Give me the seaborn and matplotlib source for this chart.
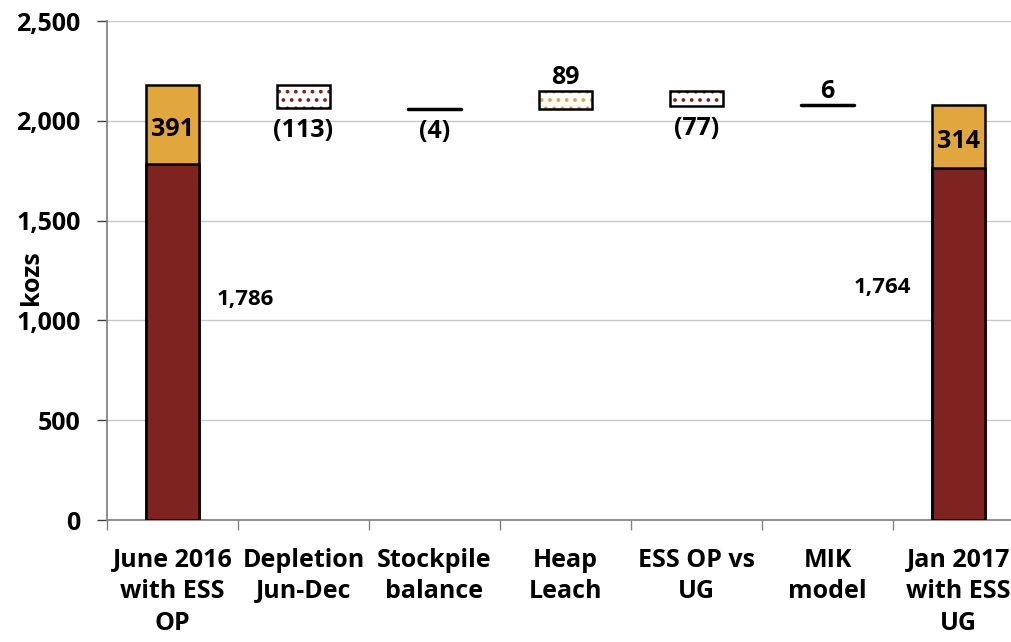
import numpy as np
import matplotlib
matplotlib.use("Agg")
import matplotlib.pyplot as plt
import seaborn as sns

# ========= DATA ==========
categories = ["June 2016\nwith ESS\nOP", "Depletion\nJun-Dec", "Stockpile\nbalance",
              "Heap\nLeach", "ESS OP vs\nUG", "MIK\nmodel", "Jan 2017\nwith ESS\nUG"]
base_values = [1786, np.nan, np.nan, np.nan, np.nan, np.nan, 1764]   # dark red part of end bars
top_values = [391, np.nan, np.nan, np.nan, np.nan, np.nan, 314]      # orange part of end bars
deltas = [None, -113, -4, 89, -77, 6, None]                          # floating steps
y_ticks = [0, 500, 1000, 1500, 2000, 2500]

DARK_RED = "#7F2320"
ORANGE = "#E1A63E"
FS = 18

sns.set_theme(style="white")
plt.rcParams["font.family"] = ["Open Sans", "DejaVu Sans"]
plt.rcParams["font.weight"] = "bold"
plt.rcParams["text.color"] = "black"
plt.rcParams["xtick.color"] = "black"
plt.rcParams["ytick.color"] = "black"
plt.rcParams["hatch.linewidth"] = 1.5

fig = plt.figure(figsize=(10.11, 6.42), dpi=100)
ax = fig.add_axes([107 / 1011, 1 - 520 / 642, 917 / 1011, 499 / 642])

totals = [b + t for b, t in zip(base_values, top_values)]
sns.barplot(x=list(range(7)), y=totals, color=ORANGE, saturation=1, width=0.4,
            edgecolor="black", linewidth=1.8, ax=ax, native_scale=True, zorder=3)
sns.barplot(x=list(range(7)), y=base_values, color=DARK_RED, saturation=1, width=0.4,
            edgecolor="black", linewidth=1.8, ax=ax, native_scale=True, zorder=4)

# floating steps
running = totals[0]
for i, d in enumerate(deltas):
    if d is None:
        continue
    start, end = running, running + d
    lo, hi = min(start, end), max(start, end)
    dot_col = DARK_RED if d < 0 else ORANGE
    if abs(d) > 10:
        ax.bar(i, hi - lo, bottom=lo, width=0.4, color="white", hatch="..",
               edgecolor=dot_col, linewidth=0, zorder=3)
        ax.bar(i, hi - lo, bottom=lo, width=0.4, fill=False,
               edgecolor="black", linewidth=1.8, zorder=4)
    else:
        ax.plot([i - 0.2, i + 0.2], [end, end], color="black", lw=2.5,
                solid_capstyle="round", zorder=4)
    txt = f"({abs(d)})" if d < 0 else f"{d}"
    if d < 0:
        ax.text(i, lo - 50, txt, ha="center", va="top", fontsize=FS, fontweight="bold")
    else:
        ax.text(i, hi + 5, txt, ha="center", va="bottom", fontsize=FS, fontweight="bold")
    running = end

# end bar labels
ax.text(0, base_values[0] + top_values[0] / 2 - 25, f"{top_values[0]}", ha="center",
        va="center", fontsize=FS, fontweight="bold", zorder=5)
ax.text(6, base_values[6] + top_values[6] / 2 - 25, f"{top_values[6]}", ha="center",
        va="center", fontsize=FS, fontweight="bold", zorder=5)
ax.text(0.34, 1105, f"{base_values[0]:,}", ha="left", va="center", fontsize=16, fontweight="bold")
ax.text(5.64, 1165, f"{base_values[6]:,}", ha="right", va="center", fontsize=16, fontweight="bold")

ax.set_ylim(0, 2500)
ax.set_xlim(-0.5, 6.5)
ax.set_yticks(y_ticks)
ax.set_yticklabels([f"{v:,}" for v in y_ticks], fontsize=FS, fontweight="bold")
ax.yaxis.grid(True, color="#C8C8C8", lw=1)
ax.set_axisbelow(True)

ax.set_xticks(np.arange(-0.5, 7, 1))
ax.set_xticklabels([])
ax.set_xticks(range(7), minor=True)
ax.set_xticklabels(categories, minor=True, fontsize=FS, fontweight="bold", linespacing=1.35)
ax.tick_params(axis="x", which="major", direction="out", length=7, width=1, color="#808080", bottom=True)
ax.tick_params(axis="x", which="minor", length=0, pad=20)
ax.tick_params(axis="y", direction="out", length=7, width=1, color="#404040", left=True, pad=12)

ax.text(-0.082, 0.485, "kozs", transform=ax.transAxes, rotation=90, ha="center",
        va="center", fontsize=FS, fontweight="bold")

for s in ["top", "right"]:
    ax.spines[s].set_visible(False)
ax.spines["left"].set_color("#808080")
ax.spines["bottom"].set_color("#808080")
ax.spines["left"].set_zorder(6)

fig.savefig("out.png", dpi=100)
